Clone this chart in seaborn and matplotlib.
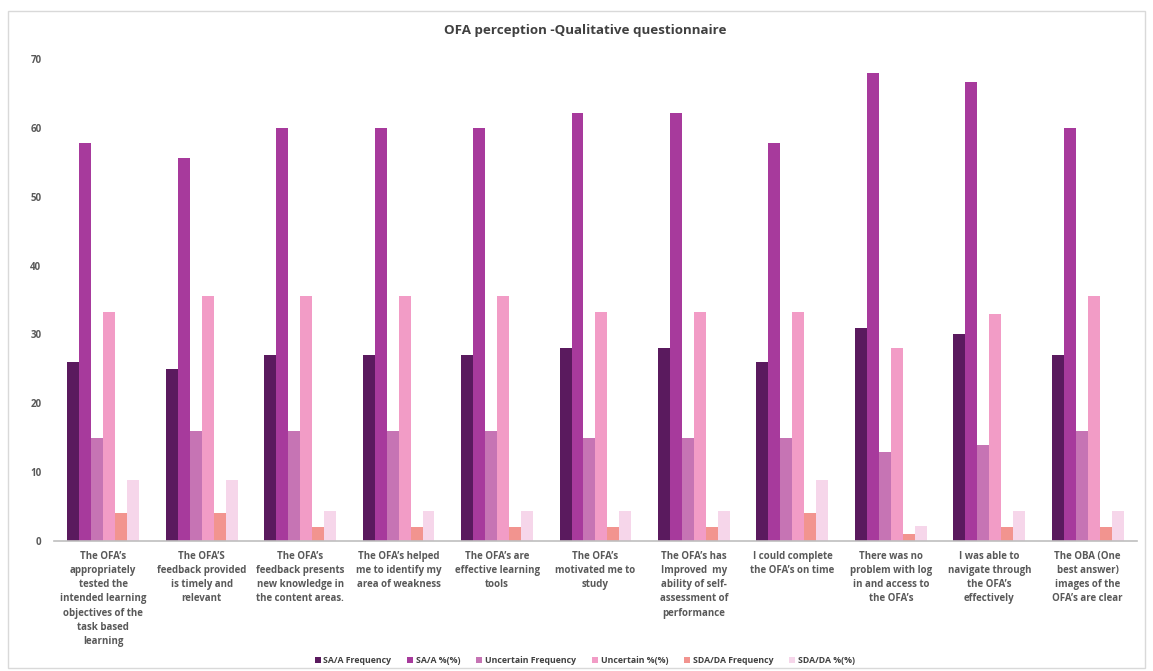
import pandas as pd
import matplotlib
matplotlib.use("Agg")
import matplotlib.pyplot as plt
from matplotlib.patches import Rectangle
import seaborn as sns

# Дані з діаграми
categories = [
    "The OFA's\nappropriately\ntested the\nintended learning\nobjectives of the\ntask based\nlearning",
    "The OFA'S\nfeedback provided\nis timely and\nrelevant",
    "The OFA's\nfeedback presents\nnew knowledge in\nthe content areas.",
    "The OFA's helped\nme to identify my\narea of weakness",
    "The OFA's are\neffective learning\ntools",
    "The OFA's\nmotivated me to\nstudy",
    "The OFA's has\nImproved  my\nability of self-\nassessment of\nperformance",
    "I could complete\nthe OFA's on time",
    "There was no\nproblem with log\nin and access to\nthe OFA's",
    "I was able to\nnavigate through\nthe OFA's\neffectively",
    "The OBA (One\nbest answer)\nimages of the\nOFA's are clear",
]
categories = [c.replace("'", "\u2019") for c in categories]

series_names = ["SA/A Frequency", "SA/A %(%)", "Uncertain Frequency",
                "Uncertain %(%)", "SDA/DA Frequency", "SDA/DA %(%)"]
sa_freq = [26, 25, 27, 27, 27, 28, 28, 26, 31, 30, 27]
sa_pct = [57.8, 55.6, 60, 60, 60, 62.2, 62.2, 57.8, 68, 66.7, 60]
unc_freq = [15, 16, 16, 16, 16, 15, 15, 15, 13, 14, 16]
unc_pct = [33.3, 35.6, 35.6, 35.6, 35.6, 33.3, 33.3, 33.3, 28, 33, 35.6]
sda_freq = [4, 4, 2, 2, 2, 2, 2, 4, 1, 2, 2]
sda_pct = [8.9, 8.9, 4.4, 4.4, 4.4, 4.4, 4.4, 8.9, 2.2, 4.4, 4.4]

colors = ["#5a1a5e", "#a73a9c", "#c674b4", "#f29cc6", "#f2948f", "#f6d6ea"]

# Таблиця у довгому форматі
values = [sa_freq, sa_pct, unc_freq, unc_pct, sda_freq, sda_pct]
rows = []
for name, vals in zip(series_names, values):
    for cat, v in zip(categories, vals):
        rows.append({"Item": cat, "Series": name, "Value": v})
df = pd.DataFrame(rows)

sns.set_style("white")
plt.rcParams["font.family"] = ["Open Sans", "DejaVu Sans"]

fig = plt.figure(figsize=(11.53, 6.71), dpi=100)
ax = fig.add_axes([0.0468, 0.1937, 0.9393, 0.7184])

sns.barplot(data=df, x="Item", y="Value", hue="Series", hue_order=series_names,
            order=categories, palette=colors, width=0.73, gap=0, saturation=1,
            edgecolor="none", ax=ax, legend=True)

ax.set_ylim(0, 70)
ax.set_xlim(-0.5, len(categories) - 0.5)
ax.set_yticks(range(0, 71, 10))
ax.set_xlabel("")
ax.set_ylabel("")
ax.tick_params(axis="y", length=0, labelsize=7, labelcolor="#595959", pad=9)
ax.tick_params(axis="x", length=0, labelsize=7, labelcolor="#595959", pad=7)
for lbl in ax.get_yticklabels() + ax.get_xticklabels():
    lbl.set_fontweight("bold")
for lbl in ax.get_xticklabels():
    lbl.set_linespacing(1.4)
    lbl.set_va("top")

for s in ["top", "right", "left"]:
    ax.spines[s].set_visible(False)
ax.spines["bottom"].set_color("#bfbfbf")
ax.spines["bottom"].set_linewidth(1.2)

fig.text(0.508, 0.955, "OFA perception -Qualitative questionnaire", ha="center",
         va="center", fontsize=9.6, fontweight="bold", color="#404040")

handles, labels = ax.get_legend_handles_labels()
ax.legend_.remove()
leg = fig.legend(handles, labels, loc="center", bbox_to_anchor=(0.507, 0.015),
                 ncol=6, frameon=False, fontsize=6.3, handlelength=0.7,
                 handleheight=0.7, handletextpad=0.3, columnspacing=1.8)
for t in leg.get_texts():
    t.set_fontweight("bold")
    t.set_color("#404040")

fig.patches.append(Rectangle((0.007, 0.004), 0.986, 0.979, transform=fig.transFigure,
                             fill=False, edgecolor="#d9d9d9", linewidth=1))

fig.savefig("out.png", dpi=100)
